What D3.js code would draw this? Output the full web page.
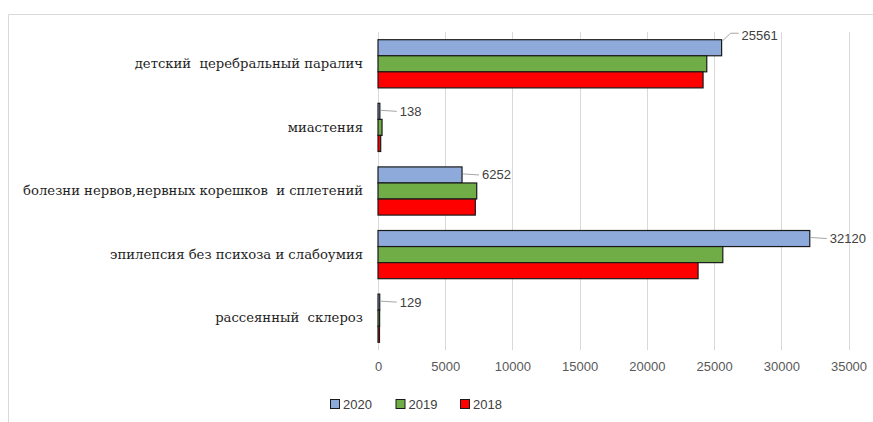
<!DOCTYPE html>
<html><head><meta charset="utf-8">
<script src="https://cdn.jsdelivr.net/npm/d3@7"></script>
<style>
html,body{margin:0;padding:0;background:#fff;}
svg{display:block;}
.cat{white-space:pre;}
</style>
</head><body>
<svg id="chart" width="873" height="422"></svg>
<script>
const categories = [
  "детский  церебральный паралич",
  "миастения",
  "болезни нервов,нервных корешков  и сплетений",
  "эпилепсия без психоза и слабоумия",
  "рассеянный  склероз"
];
const years = ["2020", "2019", "2018"];
const values2020 = [25561, 138, 6252, 32120, 129];
const values2019 = [24457, 300, 7344, 25650, 120];
const values2018 = [24182, 200, 7240, 23810, 110];
const xTicks = [0, 5000, 10000, 15000, 20000, 25000, 30000, 35000];

const seriesValues = {"2020": values2020, "2019": values2019, "2018": values2018};
const colors = {"2020": "#8eaadb", "2019": "#70ad47", "2018": "#ff0000"};

const svg = d3.select("#chart");
const W = 873, H = 422;
const m = {left: 378, right: 873 - 848.5, top: 32, bottom: 422 - 350};

// outer frame
svg.append("line").attr("x1", 8.5).attr("x2", W).attr("y1", 14.5).attr("y2", 14.5).attr("stroke", "#d9d9d9");
svg.append("line").attr("x1", 8.5).attr("x2", 8.5).attr("y1", 14.5).attr("y2", H).attr("stroke", "#d9d9d9");

const x = d3.scaleLinear().domain([0, 35000]).range([m.left, W - m.right]);
const y = d3.scaleBand().domain(categories).range([m.top, H - m.bottom]).paddingInner(0).paddingOuter(0);
const yInner = d3.scaleBand().domain(years).range([0, y.bandwidth()]).paddingOuter(0.48).paddingInner(0);

// gridlines
svg.append("g").selectAll("line").data(xTicks).join("line")
  .attr("x1", d => Math.round(x(d)) + 0.5).attr("x2", d => Math.round(x(d)) + 0.5)
  .attr("y1", m.top).attr("y2", H - m.bottom)
  .attr("stroke", "#d9d9d9").attr("stroke-width", 1);

// x axis tick labels
const xAxis = d3.axisBottom(x).tickValues(xTicks).tickSize(0).tickPadding(0).tickFormat(d3.format("d"));
const gx = svg.append("g").attr("transform", `translate(0,${H - m.bottom + 12})`).call(xAxis);
gx.select(".domain").remove();
gx.selectAll("text").attr("fill", "#595959").attr("font-family", "Liberation Sans, sans-serif").attr("font-size", "13px");

// y axis labels
const yAxis = d3.axisLeft(y).tickSize(0).tickPadding(15);
const gy = svg.append("g").attr("transform", `translate(${m.left},0)`).call(yAxis);
gy.select(".domain").remove();
gy.selectAll("text").attr("class", "cat").attr("fill", "#1f1f1f")
  .attr("font-family", "DejaVu Serif, serif").attr("font-size", "13.2px");

// bars
const data = [];
categories.forEach((c, i) => years.forEach(yr => data.push({cat: c, year: yr, value: seriesValues[yr][i], idx: i})));
svg.append("g").selectAll("rect").data(data).join("rect")
  .attr("x", x(0))
  .attr("y", d => y(d.cat) + yInner(d.year))
  .attr("width", d => Math.max(0.01, x(d.value) - x(0)))
  .attr("height", yInner.bandwidth())
  .attr("fill", d => colors[d.year])
  .attr("stroke", "#1a1a1a").attr("stroke-width", 1.2);

// data labels for 2020 with leader lines
const labelShift = {0: -12};
const lbl = svg.append("g");
values2020.forEach((v, i) => {
  const bx = x(v);
  const cy = y(categories[i]) + yInner("2020") + yInner.bandwidth() / 2;
  const dy = labelShift[i] || 0;
  const lx = bx + 20;
  const ly = cy + dy;
  if (dy !== 0) {
    lbl.append("path").attr("d", `M${bx + 1},${cy - yInner.bandwidth() / 2 + 1} L${bx + 9},${ly - 2.5} L${lx - 3},${ly - 2.5}`)
      .attr("fill", "none").attr("stroke", "#a6a6a6").attr("stroke-width", 1);
  } else {
    lbl.append("path").attr("d", `M${bx + 1},${ly - 1} L${lx - 3},${ly}`)
      .attr("fill", "none").attr("stroke", "#a6a6a6").attr("stroke-width", 1);
  }
  lbl.append("text").attr("x", lx).attr("y", ly).attr("dy", "0.35em")
    .attr("fill", "#404040").attr("font-family", "Liberation Sans, sans-serif").attr("font-size", "13px")
    .text(v);
});

// legend
const legendX = [330, 395.5, 460];
const lg = svg.append("g");
years.forEach((yr, i) => {
  lg.append("rect").attr("x", legendX[i] + 0.5).attr("y", 399.5).attr("width", 9).attr("height", 9)
    .attr("fill", colors[yr]).attr("stroke", "#1a1a1a").attr("stroke-width", 1);
  lg.append("text").attr("x", legendX[i] + 13).attr("y", 404).attr("dy", "0.35em")
    .attr("fill", "#404040").attr("font-family", "Liberation Sans, sans-serif").attr("font-size", "13px")
    .text(yr);
});
</script>
</body></html>
